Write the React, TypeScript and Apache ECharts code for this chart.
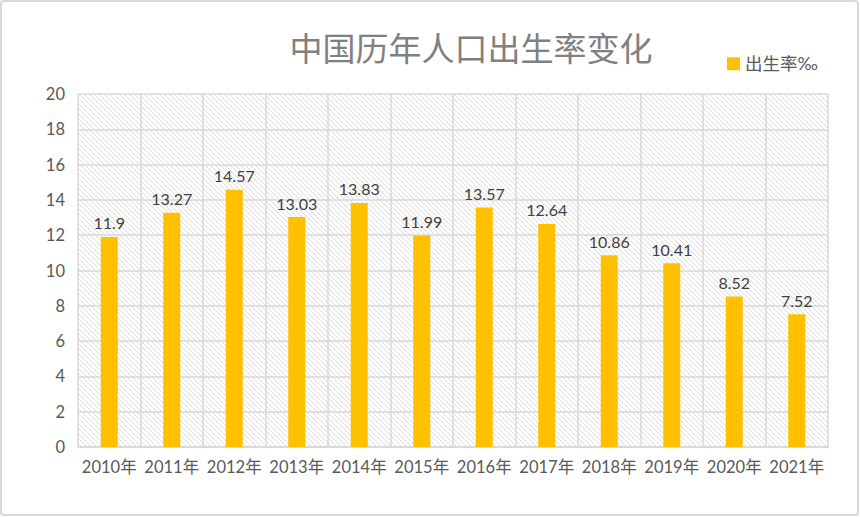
import React, { useEffect, useRef } from "react";
import * as echarts from "echarts";

const categories = ["2010年", "2011年", "2012年", "2013年", "2014年", "2015年", "2016年", "2017年", "2018年", "2019年", "2020年", "2021年"];
const birthRate = [11.9, 13.27, 14.57, 13.03, 13.83, 11.99, 13.57, 12.64, 10.86, 10.41, 8.52, 7.52];
const seriesName = "出生率‰";
const titleText = "中国历年人口出生率变化";

const hatchSvg =
  "data:image/svg+xml;charset=utf-8," +
  encodeURIComponent(
    '<svg xmlns="http://www.w3.org/2000/svg" width="5" height="5"><rect width="5" height="5" fill="#ffffff"/><path d="M-1,-1 L6,6 M-1,4 L1,6 M4,-1 L6,1" stroke="#dcdcdc" stroke-width="1"/></svg>'
  );

const FONT = "Lato, 'Noto Sans CJK SC', sans-serif";

export default function App() {
  const ref = useRef<HTMLDivElement>(null);
  useEffect(() => {
    if (!ref.current) return;
    const chart = echarts.init(ref.current, null, { renderer: "svg" });
    chart.setOption({
      animation: false,
      backgroundColor: "#ffffff",
      title: {
        text: titleText,
        left: 466,
        top: 25,
        textAlign: "center",
        textStyle: {
          fontFamily: "'Noto Sans CJK SC', sans-serif",
          fontSize: 33,
          fontWeight: "normal",
          color: "#808080",
        },
      },
      legend: {
        data: [seriesName],
        left: 722,
        top: 50,
        itemWidth: 13,
        itemHeight: 13,
        itemGap: 8,
        icon: "rect",
        textStyle: { fontFamily: FONT, fontSize: 17.5, color: "#595959" },
      },
      grid: {
        left: 78,
        right: 32,
        top: 94,
        bottom: 70,
        show: true,
        borderWidth: 0,
        backgroundColor: {
          image: hatchSvg,
          repeat: "repeat",
          imageWidth: 5,
          imageHeight: 5,
        } as any,
      },
      graphic: [
        {
          type: "rect",
          shape: { x: 1, y: 1, width: 857, height: 514, r: 3 },
          style: { fill: "none", stroke: "#d9d9d9", lineWidth: 2 },
          silent: true,
        },
      ],
      xAxis: {
        type: "category",
        data: categories,
        boundaryGap: true,
        axisLine: { show: true, lineStyle: { color: "#d9d9d9", width: 2 } },
        axisTick: { show: false },
        axisLabel: { fontFamily: FONT, fontSize: 16.5, color: "#595959", margin: 12, interval: 0 },
        splitLine: { show: true, lineStyle: { color: "#d9d9d9", width: 1.5 } },
      },
      yAxis: {
        type: "value",
        min: 0,
        max: 20,
        interval: 2,
        axisLine: { show: false },
        axisTick: { show: false },
        axisLabel: { fontFamily: FONT, fontSize: 16.5, color: "#595959", margin: 13 },
        splitLine: { show: true, lineStyle: { color: "#d9d9d9", width: 1.5 } },
      },
      series: [
        {
          name: seriesName,
          type: "bar",
          data: birthRate,
          barWidth: 17,
          itemStyle: { color: "#ffc000" },
          label: {
            show: true,
            position: "top",
            distance: 6,
            fontFamily: FONT,
            fontSize: 16,
            color: "#404040",
          },
        },
      ],
    });
    return () => chart.dispose();
  }, []);
  return (
    <div
      ref={ref}
      style={{ position: "fixed", left: 0, top: 0, width: 860, height: 517 }}
    />
  );
}
